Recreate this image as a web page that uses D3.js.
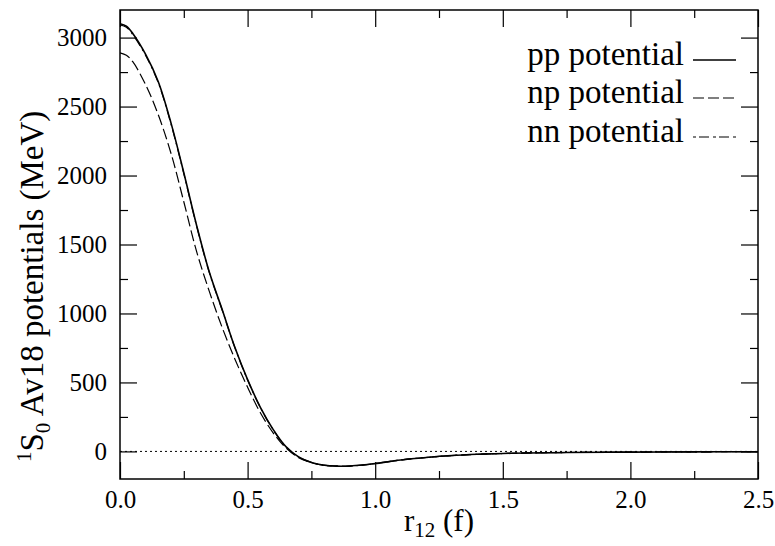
<!DOCTYPE html>
<html>
<head>
<meta charset="utf-8">
<script src="https://cdn.jsdelivr.net/npm/d3@7"></script>
<style>
  html, body { margin: 0; padding: 0; background: #fff; }
  svg, svg text { font-family: "Liberation Serif", "Times New Roman", "DejaVu Serif", serif; }
</style>
</head>
<body>
<div id="chart"></div>
<script>
// 1S0 Av18 potentials vs r12
const rVals  = [0, 0.025, 0.05, 0.1, 0.15, 0.2, 0.25, 0.3, 0.35, 0.4, 0.45, 0.5, 0.55, 0.6, 0.65, 0.7, 0.75, 0.8, 0.85, 0.9, 0.95, 1.0, 1.1, 1.2, 1.3, 1.4, 1.5, 1.6, 1.75, 2.0, 2.25, 2.5];
const ppVals = [3100, 3082, 3030, 2880, 2680, 2380, 2020, 1640, 1300, 1030, 755, 520, 320, 160, 35, -40, -80, -100, -107, -106, -99, -88, -62, -44, -30, -21, -15, -11, -8, -5, -3, -2];
const npVals = [2890, 2872, 2825, 2660, 2440, 2160, 1810, 1450, 1160, 900, 670, 465, 280, 135, 25, -45, -82, -101, -107, -106, -99, -88, -62, -44, -30, -21, -15, -11, -8, -5, -3, -2];
const nnVals = [3092, 3074, 3022, 2872, 2672, 2373, 2014, 1635, 1296, 1027, 753, 518, 318, 158, 34, -41, -80, -100, -107, -106, -99, -88, -62, -44, -30, -21, -15, -11, -8, -5, -3, -2];

const xTicks      = [0, 0.5, 1.0, 1.5, 2.0, 2.5];
const xMinorTicks = [0.25, 0.75, 1.25, 1.75, 2.25];
const yTicks      = [0, 500, 1000, 1500, 2000, 2500, 3000];
const yMinorTicks = [250, 750, 1250, 1750, 2250, 2750];

const seriesNames = ["pp potential", "np potential", "nn potential"];

(() => {
  const W = 775, H = 546;
  const left = 120, right = 758, top = 10, bottom = 479;
  const FONT = "'Liberation Serif', 'Times New Roman', 'DejaVu Serif', serif";

  const svg = d3.select("#chart").append("svg")
    .attr("width", W).attr("height", H)
    .style("font-family", FONT);

  const x = d3.scaleLinear().domain([0, 2.5]).range([left, right]);
  const y = d3.scaleLinear().domain([-200, 3200]).range([bottom, top]);

  const fmtX = d3.format(".1f");
  const fmtY = d3.format("d");

  // zero line (dotted)
  svg.append("line")
    .attr("x1", x(0)).attr("x2", x(2.5))
    .attr("y1", y(0)).attr("y2", y(0))
    .attr("stroke", "#000").attr("stroke-width", 1)
    .attr("stroke-dasharray", "2,3");

  // --- curves ---
  const line = d3.line()
    .x(d => x(d[0]))
    .y(d => y(d[1]))
    .curve(d3.curveCatmullRom.alpha(0.5));

  const series = [
    { vals: nnVals, dash: "10,4,2,4", w: 1.2 },
    { vals: npVals, dash: "11,4",     w: 1.2 },
    { vals: ppVals, dash: null,       w: 1.6 },
  ];

  svg.append("clipPath").attr("id", "clip")
    .append("rect").attr("x", left).attr("y", top)
    .attr("width", right - left).attr("height", bottom - top);

  const gLines = svg.append("g").attr("clip-path", "url(#clip)");
  series.forEach(s => {
    gLines.append("path")
      .datum(rVals.map((r, i) => [r, s.vals[i]]))
      .attr("fill", "none")
      .attr("stroke", "#000")
      .attr("stroke-width", s.w)
      .attr("stroke-dasharray", s.dash)
      .attr("d", line);
  });

  // --- axes (ticks inward on all four sides) ---
  const MAJ = 17, MIN = 8;
  const styleAxis = g => {
    g.attr("font-family", null).attr("font-size", null);
    g.select(".domain").remove();
    g.selectAll(".tick line").attr("stroke", "#000").attr("stroke-width", 1.2);
    g.selectAll(".tick text").attr("fill", "#000")
      .style("font-size", "25px")
      .style("font-family", FONT);
  };

  svg.append("g").attr("transform", `translate(0,${bottom})`)
    .call(d3.axisBottom(x).tickValues(xTicks).tickSize(-MAJ).tickPadding(11).tickFormat(fmtX))
    .call(styleAxis);
  svg.append("g").attr("transform", `translate(0,${bottom})`)
    .call(d3.axisBottom(x).tickValues(xMinorTicks).tickSize(-MIN).tickFormat(""))
    .call(styleAxis);
  svg.append("g").attr("transform", `translate(0,${top})`)
    .call(d3.axisTop(x).tickValues(xTicks).tickSize(-MAJ).tickFormat(""))
    .call(styleAxis);
  svg.append("g").attr("transform", `translate(0,${top})`)
    .call(d3.axisTop(x).tickValues(xMinorTicks).tickSize(-MIN).tickFormat(""))
    .call(styleAxis);

  svg.append("g").attr("transform", `translate(${left},0)`)
    .call(d3.axisLeft(y).tickValues(yTicks).tickSize(-MAJ).tickPadding(13).tickFormat(fmtY))
    .call(styleAxis);
  svg.append("g").attr("transform", `translate(${left},0)`)
    .call(d3.axisLeft(y).tickValues(yMinorTicks).tickSize(-MIN).tickFormat(""))
    .call(styleAxis);
  svg.append("g").attr("transform", `translate(${right},0)`)
    .call(d3.axisRight(y).tickValues(yTicks).tickSize(-MAJ).tickFormat(""))
    .call(styleAxis);
  svg.append("g").attr("transform", `translate(${right},0)`)
    .call(d3.axisRight(y).tickValues(yMinorTicks).tickSize(-MIN).tickFormat(""))
    .call(styleAxis);

  // frame
  svg.append("rect")
    .attr("x", left).attr("y", top)
    .attr("width", right - left).attr("height", bottom - top)
    .attr("fill", "none").attr("stroke", "#000").attr("stroke-width", 1.5);

  // --- axis titles ---
  const xt = svg.append("text")
    .attr("x", (left + right) / 2).attr("y", 531)
    .attr("text-anchor", "middle")
    .style("font-size", "31px");
  xt.append("tspan").text("r");
  xt.append("tspan").style("font-size", "21px").attr("dy", 6).text("12");
  xt.append("tspan").attr("dy", -6).text(" (f)");

  const yt = svg.append("text")
    .attr("transform", "translate(43,462) rotate(-90)")
    .attr("text-anchor", "start")
    .style("font-size", "33px");
  yt.append("tspan").style("font-size", "21px").attr("dy", -12).text("1");
  yt.append("tspan").attr("dy", 12).text("S");
  yt.append("tspan").style("font-size", "21px").attr("dy", 7).text("0");
  yt.append("tspan").attr("dy", -7).text(" Av18 potentials (MeV)");

  // --- legend ---
  const legY = [65, 103, 142];
  const legStyles = [
    { dash: null, w: 1.4 },
    { dash: "11,4", w: 1.2 },
    { dash: "3,3,10,4", w: 1.2 },
  ];
  seriesNames.forEach((name, i) => {
    svg.append("text")
      .attr("x", 684).attr("y", legY[i])
      .attr("text-anchor", "end")
      .style("font-size", "33px")
      .text(name);
    svg.append("line")
      .attr("x1", 693).attr("x2", 736)
      .attr("y1", legY[i] - 5).attr("y2", legY[i] - 5)
      .attr("stroke", "#000")
      .attr("stroke-width", legStyles[i].w)
      .attr("stroke-dasharray", legStyles[i].dash);
  });
})();
</script>
</body>
</html>
